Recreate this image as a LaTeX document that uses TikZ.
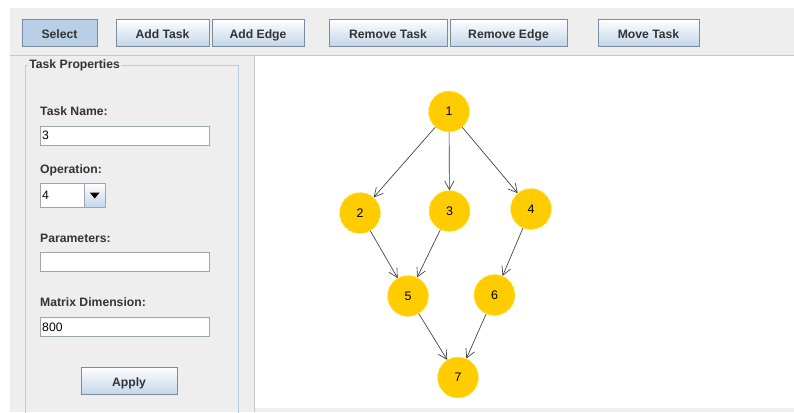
\documentclass[tikz,border=0pt]{standalone}
\usepackage{fontspec}
\setmainfont{Liberation Sans}
\usetikzlibrary{positioning,arrows.meta,calc}
\definecolor{panel}{HTML}{EEEEEE}
\definecolor{rule}{HTML}{C6C6C6}
\definecolor{btnedge}{HTML}{7C8C9C}
\definecolor{btnblue}{HTML}{C4D6EA}
\definecolor{selblue}{HTML}{B8CFE5}
\definecolor{frameblue}{HTML}{B5CDE5}
\definecolor{fieldedge}{HTML}{9CA6B0}
\definecolor{ink}{HTML}{333333}
\definecolor{taskfill}{HTML}{FFCC00}
\definecolor{taskedge}{HTML}{FFE21A}
\definecolor{edgegray}{HTML}{3A3A3A}
\tikzset{
  btn/.style={draw=btnedge,top color=white,bottom color=btnblue,text=ink,
    font=\fontsize{10.4}{12}\selectfont\bfseries,minimum height=.81cm,inner sep=0pt,
    text height=10pt,text depth=0pt},
  lbl/.style={anchor=west,text=ink,font=\fontsize{10.4}{12}\selectfont\bfseries,inner sep=0pt},
  field/.style={draw=fieldedge,fill=white,anchor=west,minimum height=.57cm,inner sep=0pt},
  val/.style={anchor=west,text=black,font=\fontsize{10.4}{12}\selectfont,inner sep=0pt},
  task/.style={circle,fill=taskfill,draw=taskedge,densely dashed,line width=.7pt,
    minimum size=1.22cm,inner sep=0pt,font=\fontsize{10.6}{12}\selectfont},
  dep/.style={draw=edgegray,line width=.55pt,-{Straight Barb[length=2.6mm,width=2.8mm]}}
}
\begin{document}
\begin{tikzpicture}[x=.03cm,y=-.03cm]
\useasboundingbox (0,0) rectangle (794,412);
\fill[white] (0,0) rectangle (794,412);
\fill[panel] (10,8) rectangle (794,412);
\draw[rule,line width=.8pt] (10,55) -- (794,55);
% toolbar
\node[btn,draw=btnedge,top color=selblue,bottom color=selblue,minimum width=2.25cm] (select) at (59.5,32.5) {Select};
\node[btn,minimum width=2.79cm] (addtask) at (162.5,32.5) {Add Task};
\node[btn,minimum width=2.76cm] (addedge) at (258,32.5) {Add Edge};
\node[btn,minimum width=3.54cm] (removetask) at (388,32.5) {Remove Task};
\node[btn,minimum width=3.51cm] (removeedge) at (508.5,32.5) {Remove Edge};
\node[btn,minimum width=3.03cm] (movetask) at (648.5,32.5) {Move Task};
% canvas
\fill[white] (255,56) rectangle (794,408);
\draw[rule,line width=.8pt] (254,56) -- (254,412);
% task properties panel
\draw[frameblue,line width=.6pt] (25,415) -- (25,65) -- (238,65) -- (238,415);
\node[lbl,fill=panel,inner xsep=1pt] (props) at (28,65) {Task Properties};
\node[lbl] (namelbl) at (40,111) {Task Name:};
\node[field,minimum width=5.07cm] (namefld) at (40,135.5) {};
\node[val] (nameval) at (42,135.5) {3};
\node[lbl] (oplbl) at (40,170) {Operation:};
\node[field,minimum width=1.95cm,minimum height=.72cm] (opfld) at (40,195) {};
\node[val] (opval) at (42,195) {4};
\node[draw=fieldedge,top color=white,bottom color=btnblue,minimum width=.63cm,minimum height=.72cm,inner sep=0pt,anchor=east] (opbtn) at (opfld.east) {};
\fill[black] ($(opbtn.center)+(-5,-2.5)$) -- ++(10,0) -- ++(-5,6) -- cycle;
\node[lbl] (parlbl) at (40,238) {Parameters:};
\node[field,minimum width=5.07cm] (parfld) at (40,262) {};
\node[lbl] (dimlbl) at (40,302) {Matrix Dimension:};
\node[field,minimum width=5.07cm] (dimfld) at (40,327) {};
\node[val] (dimval) at (42,327) {800};
\node[btn,minimum width=2.88cm] (apply) at (129,380.5) {Apply};
% task graph
\node[task] (t1) at (449,111.5) {1};
\node[task] (t2) at (360,213) {2};
\node[task] (t3) at (449.5,211) {3};
\node[task] (t4) at (531,209) {4};
\node[task] (t5) at (408,296) {5};
\node[task] (t6) at (494.5,295) {6};
\node[task] (t7) at (458,377.5) {7};
\draw[dep] (t1) -- (t2);
\draw[dep] (t1) -- (t3);
\draw[dep] (t1) -- (t4);
\draw[dep] (t2) -- (t5);
\draw[dep] (t3) -- (t5);
\draw[dep] (t4) -- (t6);
\draw[dep] (t5) -- (t7);
\draw[dep] (t6) -- (t7);
\end{tikzpicture}
\end{document}
